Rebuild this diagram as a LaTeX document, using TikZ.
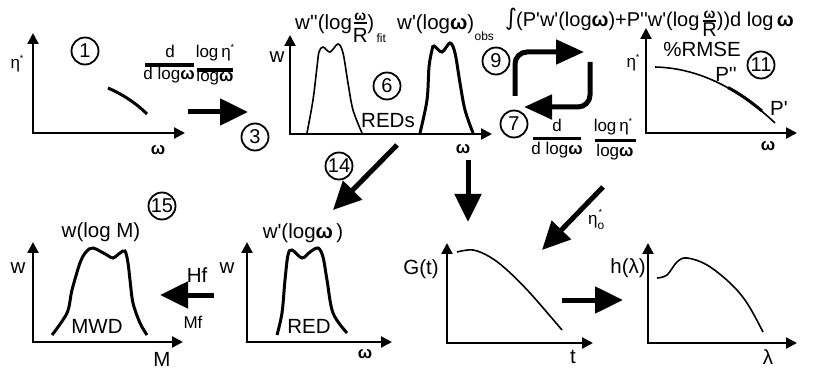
\documentclass[tikz,border=0pt]{standalone}
\usepackage{fontspec}
\setmainfont{Liberation Sans}
\newfontfamily\lib{Liberation Sans}
\newfontfamily\dejavu{DejaVu Sans}
\usetikzlibrary{arrows.meta}
\newcommand{\om}{\textbf{ω}}
\newcommand{\etas}{η\raisebox{0.42em}{\fontsize{9}{9}\selectfont *}}
\begin{document}
\begin{tikzpicture}[x=1pt,y=-1pt,
  axis/.style={line width=2.2pt,{Triangle[length=11pt,width=11pt]}-{Triangle[length=11pt,width=11pt]}},
  bigarrow/.style={line width=5pt,-{Triangle[length=28pt,width=26pt]}},
  cyclearrow/.style={line width=5pt,rounded corners=12pt,-{Triangle[length=28pt,width=24pt]}},
  num/.style={draw,circle,line width=1.8pt,minimum size=27pt,inner sep=0pt,font=\lib\fontsize{20}{20}\selectfont},
  lbl/.style={font=\lib\fontsize{20.5}{20.5}\selectfont,inner sep=0pt},
  ilbl/.style={font=\lib\fontsize{20}{20}\selectfont,inner sep=0pt},
  mid/.style={font=\lib\fontsize{17}{17}\selectfont,inner sep=0pt},
  tiny/.style={font=\lib\fontsize{12}{12}\selectfont,inner sep=0pt},
  fracom/.style={font=\lib\fontsize{14}{14}\selectfont,inner sep=0pt},
  curvethin/.style={line width=1.6pt},
  curveheavy/.style={line width=3pt},
  fbar/.style={line width=3.5pt},
  sbar/.style={line width=2pt},
]
\useasboundingbox (0,0) rectangle (816,371);

% ---------- panel 1 ----------
\draw[axis] (33,33) -- (33,133) -- (185,133);
\node[mid] (eta1) at (17,64) {\etas};
\node[mid] (om1) at (158,150) {\om};
\node[num] (n1) at (85,51) {1};
\draw[curveheavy] (108,88) .. controls (122,94) and (136,103) .. (147,114);
\node[mid,anchor=base] (f1n) at (170,58) {d};
\draw[fbar] (145,65) -- (194,65);
\node[mid,anchor=base] (f1d) at (169,80) {d log\om};
\node[mid,anchor=base] (f2n) at (215,58) {log\,\etas};
\draw[fbar] (197,70) -- (233,70);
\node[mid,anchor=base] (f2d) at (215,82) {log\om};
\coordinate (a1s) at (188,112);
\coordinate (a1e) at (248,112);
\draw[bigarrow] (a1s) -- (a1e);
\node[num] (n3) at (255,137) {3};

% ---------- panel 6 ----------
\draw[axis] (290,35) -- (290,134) -- (492,134);
\node[lbl] (w6) at (277,57) {w};
\node[mid] (om6) at (463,149) {\om};
\draw[curvethin] plot[smooth,tension=0.55] coordinates {(307,133) (313,100) (317,67) (319,52) (323,47) (330,52) (338,44) (343,53) (348,83) (353,110) (362,133)};
\draw[curveheavy] plot[smooth,tension=0.55] coordinates {(420,133) (427,100) (429,67) (432,50) (434,46) (442,52) (450,43) (455,53) (460,83) (465,110) (473,133)};
\node[lbl,anchor=base west] (l6a) at (295,30) {w''(log};
\node[fracom] (l6om) at ([xshift=8pt,yshift=13pt]l6a.base east) {\om};
\draw[sbar] ([xshift=-6.5pt,yshift=-6.5pt]l6om.center) -- ([xshift=6.5pt,yshift=-6.5pt]l6om.center);
\node[lbl,anchor=base] (l6R) at ([yshift=-13pt]l6a.base east -| l6om.center) {R};
\node[lbl,anchor=base west] (l6p) at ([xshift=15pt]l6a.base east) {)};
\node[tiny,anchor=base west] (l6fit) at ([xshift=2pt,yshift=-13pt]l6p.base east) {fit};
\node[lbl,anchor=base west] (l6b) at (397,30) {w'(log\om)};
\node[tiny,anchor=base west] (l6obs) at ([yshift=-11pt]l6b.base east) {obs};
\node[lbl] (reds) at (388,121) {REDs};
\node[num] (n6) at (387,86) {6};

% ---------- cycle 9 / 7 ----------
\node[num] (n9) at (496,61) {9};
\node[num] (n7) at (514,124) {7};
\coordinate (c9a) at (515,96);
\coordinate (c9b) at (515,52);
\coordinate (c9c) at (584,52);
\draw[cyclearrow] (c9a) -- (c9b) -- (c9c);
\coordinate (c7a) at (590,62);
\coordinate (c7b) at (590,107);
\coordinate (c7c) at (524,107);
\draw[cyclearrow] (c7a) -- (c7b) -- (c7c);
\node[mid,anchor=base] (f3n) at (557,132) {d};
\draw[fbar] (533,138.5) -- (581,138.5);
\node[mid,anchor=base] (f3d) at (557,155) {d log\om};
\node[mid,anchor=base] (f4n) at (613,132) {log\,\etas};
\draw[fbar] (595,140.5) -- (636,140.5);
\node[mid,anchor=base] (f4d) at (615,157) {log\om};

% ---------- integral ----------
\node[font=\dejavu\fontsize{23}{23}\selectfont,inner sep=0pt] (int) at (511,19) {∫};
\node[ilbl,anchor=base west] (i1) at (516,27) {(P'w'(log\om)+P''w'(log};
\node[fracom] (iom) at ([xshift=10pt,yshift=12pt]i1.base east) {\om};
\draw[sbar] ([xshift=-6.5pt,yshift=-6pt]iom.center) -- ([xshift=6.5pt,yshift=-6pt]iom.center);
\node[ilbl,anchor=base] (iR) at ([yshift=-10pt]i1.base east -| iom.center) {R};
\node[ilbl,anchor=base west] (i2) at ([xshift=17pt]i1.base east) {))d log\,\om};

% ---------- panel 11 ----------
\draw[axis] (646,28) -- (646,133) -- (797,133);
\node[mid] (eta11) at (633,63) {\etas};
\node[mid] (om11) at (768,146) {\om};
\node[lbl] (rmse) at (702,49) {\%RMSE};
\node[lbl] (pp) at (726,74) {P''};
\node[lbl] (p1) at (779,108) {P'};
\node[num] (n11) at (761,65) {11};
\draw[curvethin] (655,67) .. controls (700,68) and (740,90) .. (775,123);
\draw[curveheavy] (728,87.5) .. controls (740,94) and (750,101) .. (762,111);

% ---------- arrows down ----------
\coordinate (a14s) at (397,145);
\coordinate (a14e) at (333,210);
\draw[bigarrow] (a14s) -- (a14e);
\node[num] (n14) at (339,166) {14};
\coordinate (ads) at (468,160);
\coordinate (ade) at (468,222);
\draw[bigarrow] (ads) -- (ade);
\coordinate (aes) at (603,187);
\coordinate (aee) at (542,250);
\draw[bigarrow] (aes) -- (aee);
\node[mid,anchor=base west] (eta0) at (588,225) {η\makebox[0pt][l]{\hspace{1pt}\raisebox{9pt}{\fontsize{9}{9}\selectfont *}}\raisebox{-5pt}{\fontsize{12}{12}\selectfont o}};

% ---------- panel G(t) ----------
\draw[axis] (447,243) -- (447,343) -- (593,343);
\node[lbl] (gt) at (421,269) {G(t)};
\node[lbl] (tt) at (573,357) {t};
\draw[curvethin] plot[smooth,tension=0.6] coordinates {(457,252) (473,250) (490,257) (507,270) (530,293) (562,330)};
\coordinate (a5s) at (562,300);
\coordinate (a5e) at (623,300);
\draw[bigarrow] (a5s) -- (a5e);

% ---------- panel h ----------
\draw[axis] (648,243) -- (648,343) -- (797,343);
\node[lbl] (hl) at (628,268) {h(λ)};
\node[lbl] (lam) at (768,357) {λ};
\draw[curvethin] plot[smooth,tension=0.6] coordinates {(657,278) (667,275) (677,262) (687,258) (707,265) (730,283) (747,303) (763,332)};

% ---------- panel RED ----------
\draw[axis] (247,242) -- (247,342) -- (392,342);
\node[lbl] (w14) at (227,268) {w};
\node[mid] (om14) at (365,354) {\om};
\node[lbl] (lred) at (303,233) {w'(log\om\,)};
\node[lbl] (red) at (309,326) {RED};
\draw[curveheavy] plot[smooth,tension=0.55] coordinates {(277,335) (282,313) (285,280) (288,255) (292,250) (302,258) (310,252) (318,248) (323,257) (327,280) (333,313) (347,333)};

% ---------- Hf arrow ----------
\coordinate (ahs) at (214,295);
\coordinate (ahe) at (160,295);
\draw[bigarrow] (ahs) -- (ahe);
\node[lbl] (hf) at (197,275) {Hf};
\node[mid] (mf) at (193,322) {Mf};

% ---------- panel MWD ----------
\draw[axis] (33,242) -- (33,342) -- (183,342);
\node[lbl] (w15) at (18,268) {w};
\node[lbl] (mm) at (162,359) {M};
\node[lbl] (lmwd) at (101,232) {w(log M)};
\node[lbl] (mwd) at (97,326) {MWD};
\node[num] (n15) at (162,206) {15};
\draw[curveheavy] plot[smooth,tension=0.55] coordinates {(52,335) (67,313) (72,290) (80,263) (86,252) (93,248) (107,255) (113,258) (120,253) (125,251) (128,263) (130,280) (133,303) (140,323) (147,335)};
\end{tikzpicture}
\end{document}
